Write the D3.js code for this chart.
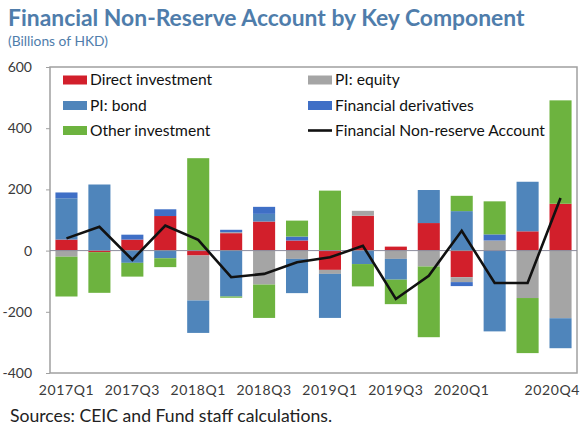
<!DOCTYPE html>
<html><head><meta charset="utf-8">
<script src="https://cdn.jsdelivr.net/npm/d3@7"></script>
<style>body{margin:0;background:#fff}svg{display:block}text{font-family:Lato,"Open Sans",sans-serif}</style>
</head><body>
<svg id="c" width="582" height="429"></svg>
<script>
const quarters = ["2017Q1","2017Q2","2017Q3","2017Q4","2018Q1","2018Q2","2018Q3","2018Q4","2019Q1","2019Q2","2019Q3","2019Q4","2020Q1","2020Q2","2020Q3","2020Q4"];
const directInvestment = [36, -5, 36, 113, -16, 57, 95, 33, -63, 114, 13, 90, -87, 0, 63, 153];
const piEquity = [-20, 0, 0, 0, -147, 3, -111, -27, -13, 16, -27, -52, -16, 33, -155, -221];
const piBond = [135, 216, -40, -25, -106, -150, 25, -112, -144, -44, -68, 108, 129, -264, 162, -98];
const finDerivatives = [19, 0, 16, 22, 0, 8, 23, 13, 0, 0, 0, 0, -13, 20, 0, 0];
const otherInvestment = [-130, -133, -45, -29, 302, -4, -109, 52, 196, -73, -80, -231, 50, 108, -180, 338];
const nonReserveAccount = [40, 78, -30, 82, 35, -87, -76, -38, -22, 16, -158, -82, 65, -106, -106, 172];
const xTickLabels = ["2017Q1","2017Q3","2018Q1","2018Q3","2019Q1","2019Q3","2020Q1","2020Q4"];
const yTicks = [-400, -200, 0, 200, 400, 600];

const seriesNames = ["Direct investment","PI: equity","PI: bond","Financial derivatives","Other investment"];
const seriesData = [directInvestment, piEquity, piBond, finDerivatives, otherInvestment];
const colors = {"Direct investment":"#d21f2b","PI: equity":"#a5a5a5","PI: bond":"#4f85bb","Financial derivatives":"#3f6fc6","Other investment":"#6db33f"};

const rows = quarters.map((q,i)=>{const r={q}; seriesNames.forEach((s,j)=>r[s]=seriesData[j][i]); return r;});

const svg = d3.select("#c");
const L=50,R=577,T=67,B=373;
const x = d3.scaleBand().domain(quarters).range([L,R]).paddingInner(0.33).paddingOuter(0.165);
const y = d3.scaleLinear().domain([-400,600]).range([B,T]);

function fit(sel, w){ sel.each(function(){ const n=this; let fs=parseFloat(n.getAttribute("font-size")); const cw=n.getComputedTextLength(); n.setAttribute("font-size",(fs*w/cw).toFixed(2)); }); }

// title
svg.append("text").attr("x",8).attr("y",26).attr("font-size",20).attr("font-weight","bold").attr("fill","#4f7dab")
  .text("Financial Non-Reserve Account by Key Component").call(fit,517);
svg.append("text").attr("x",8).attr("y",46).attr("font-size",12).attr("fill","#4f7dab")
  .text("(Billions of HKD)").call(fit,100);

// frame
svg.append("rect").attr("x",L).attr("y",T).attr("width",R-L).attr("height",B-T).attr("fill","none").attr("stroke","#a0a0a0").attr("stroke-width",1.5);

// bars
const stack = d3.stack().keys(seriesNames).offset(d3.stackOffsetDiverging);
const stacked = stack(rows);
svg.append("g").selectAll("g").data(stacked).join("g").attr("fill",d=>colors[d.key])
  .selectAll("rect").data(d=>d).join("rect")
  .attr("x",d=>x(d.data.q)).attr("width",x.bandwidth())
  .attr("y",d=>y(Math.max(d[0],d[1]))).attr("height",d=>Math.abs(y(d[0])-y(d[1])));

// zero line
svg.append("line").attr("x1",L).attr("x2",R).attr("y1",y(0)).attr("y2",y(0)).attr("stroke","#8c8c9c").attr("stroke-width",1);

// line
const line = d3.line().x((d,i)=>x(quarters[i])+x.bandwidth()/2).y(d=>y(d));
svg.append("path").datum(nonReserveAccount).attr("d",line).attr("fill","none").attr("stroke","#111").attr("stroke-width",2.6).attr("stroke-linejoin","miter");

// y axis
const ya = svg.append("g").attr("transform",`translate(${L},0)`).call(d3.axisLeft(y).tickValues(yTicks).tickFormat(d=>String(d)).tickSize(4).tickPadding(14));
ya.select(".domain").remove();
ya.selectAll("line").attr("stroke","#a0a0a0");
ya.selectAll("text").attr("font-size",14).attr("fill","#3a3a3a").attr("font-family","Lato,sans-serif");

// x axis
const xa = svg.append("g").attr("transform",`translate(0,${B})`).call(d3.axisBottom(x).tickValues(xTickLabels).tickSize(0).tickPadding(12));
xa.select(".domain").remove();
xa.selectAll("text").attr("font-size",14).attr("fill","#3a3a3a").attr("letter-spacing","0.6px").attr("font-family","Lato,sans-serif");
xa.selectAll(".tick").filter(d=>d==="2020Q4").select("text").attr("text-anchor","end").attr("dx",(R+3)-(x("2020Q4")+x.bandwidth()/2));

// sources
svg.append("text").attr("x",10).attr("y",422).attr("font-size",14).attr("fill","#222")
  .text("Sources: CEIC and Fund staff calculations.").call(fit,322);

// legend
const legendItems = [
  {name:"Direct investment",col:0,row:0,type:"rect"},
  {name:"PI: equity",col:1,row:0,type:"rect"},
  {name:"PI: bond",col:0,row:1,type:"rect"},
  {name:"Financial derivatives",col:1,row:1,type:"rect"},
  {name:"Other investment",col:0,row:2,type:"rect"},
  {name:"Financial Non-reserve Account",col:1,row:2,type:"line"}
];
const colX=[63,308], rowY=[80,105.5,130.5];
const lg = svg.append("g");
const tmp = lg.append("text").attr("font-size",14).text("Financial Non-reserve Account");
const lfs = 14*210/tmp.node().getComputedTextLength(); tmp.remove();
legendItems.forEach(it=>{
  const gx=colX[it.col], gy=rowY[it.row];
  if(it.type==="rect") lg.append("rect").attr("x",gx).attr("y",gy-4.5).attr("width",24).attr("height",9).attr("fill",colors[it.name]);
  else lg.append("line").attr("x1",gx).attr("x2",gx+24).attr("y1",gy).attr("y2",gy).attr("stroke","#111").attr("stroke-width",2.6);
  lg.append("text").attr("x",gx+27).attr("y",gy+5).attr("font-size",lfs).attr("fill","#111").text(it.name);
});
</script>
</body></html>
